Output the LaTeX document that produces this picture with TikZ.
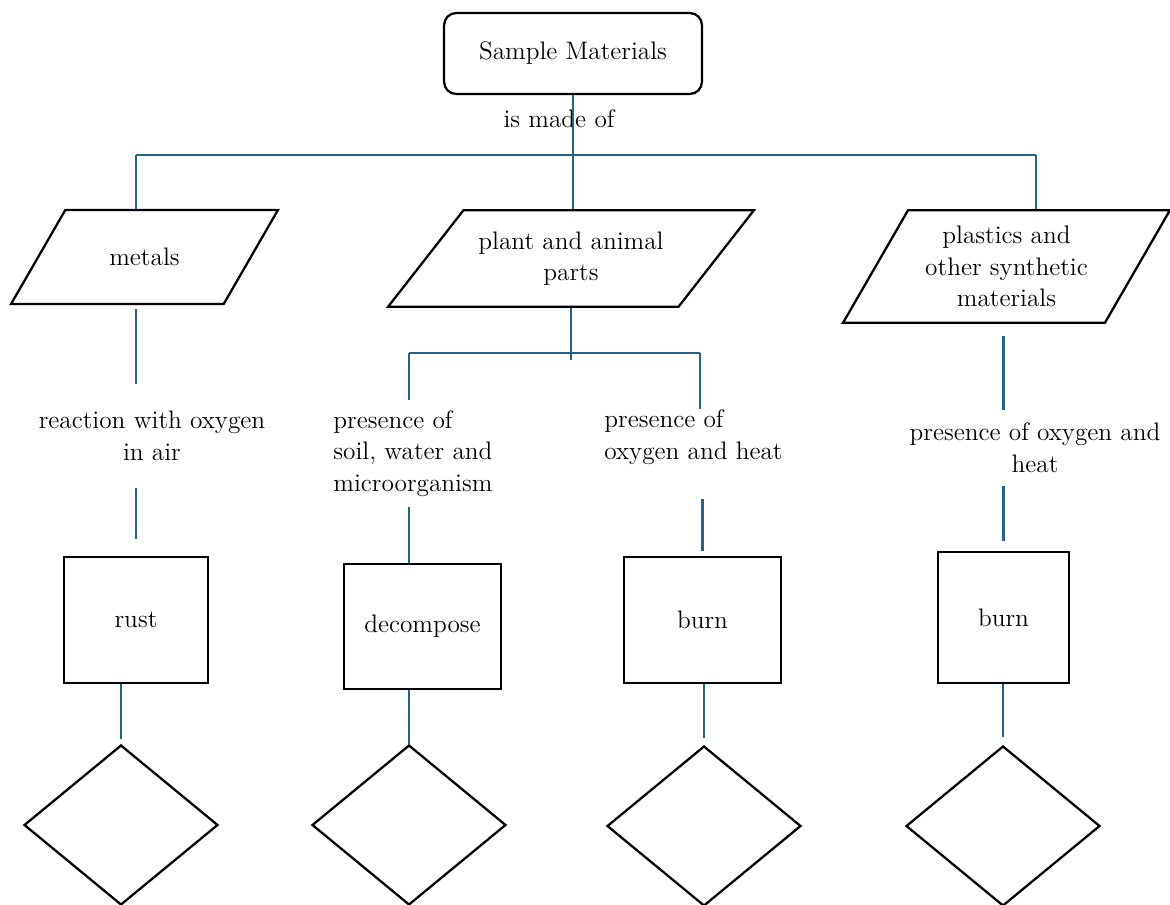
\documentclass[tikz,border=0pt]{standalone}
\usepackage{tikz}
\usetikzlibrary{shapes.geometric}

\definecolor{linkblue}{RGB}{38,98,138}

\begin{document}
\begin{tikzpicture}[x=0.02cm, y=-0.02cm,
  every node/.append style={font=\fontsize{14.4}{18}\selectfont},
  link/.style={draw=linkblue, line width=1.4pt},
  material/.style={draw, line width=1.3pt, trapezium, trapezium left angle=60,
    trapezium right angle=120, trapezium stretches body, inner xsep=0pt, align=center},
  result/.style={draw, line width=1.3pt, rectangle, inner sep=0pt},
  outcome/.style={draw, line width=1.3pt, diamond, inner sep=0pt,
    minimum width=3.88cm, minimum height=3.2cm},
  cond/.style={inner sep=0pt, align=center}]

  \useasboundingbox (0,0) rectangle (1170,905);

  % Root of the map

  \node [draw, line width=1.3pt, rounded corners=7pt, minimum width=5.16cm,
    minimum height=1.62cm] (sample) at (573,53.5) {Sample Materials};
  \node [inner sep=0pt] (madeof) at (559,119) {is made of};

  % Kinds of materials

  \node [material, inner ysep=21.7pt, minimum width=5.34cm] (metals) at (144.5,257) {metals};
  \node [material, trapezium left angle=52, trapezium right angle=128,
    inner ysep=12.1pt, minimum width=7.32cm] (plant) at (571,258.5) {plant and animal\\parts};
  \node [material, inner ysep=9pt, minimum width=6.54cm] (plastics) at (1006.5,266.5)
    {plastics and\\other synthetic\\materials};

  % Conditions

  \node [cond, minimum height=2.06cm] (rxn) at (152,436) {reaction with oxygen\\in air};
  \node [cond, align=left, anchor=west, minimum height=2.14cm] (soil) at (333,453.5)
    {presence of\\soil, water and\\microorganism};
  \node [cond, align=left, anchor=west] (oxy) at (604,437) {presence of\\oxygen and heat};
  \node [cond, minimum height=1.52cm] (oxyB) at (1035,448) {presence of oxygen and\\heat};

  % What happens

  \node [result, minimum width=2.88cm, minimum height=2.52cm] (rust) at (136,620) {rust};
  \node [result, minimum width=3.14cm, minimum height=2.5cm] (decomp) at (422.5,626.5) {decompose};
  \node [result, minimum width=3.14cm, minimum height=2.52cm] (burn) at (702.5,620) {burn};
  \node [result, minimum width=2.62cm, minimum height=2.62cm] (burnB) at (1003.5,617.5) {burn};

  \node [outcome] (dA) at (121,825) {};
  \node [outcome] (dB) at (409,825) {};
  \node [outcome] (dC) at (704,826) {};
  \node [outcome] (dD) at (1003,826) {};

  % Connections

  \coordinate (hubL) at (136,155);
  \coordinate (hubR) at (1036,155);
  \coordinate (splitL) at (409,353);
  \coordinate (splitR) at (700,353);

  \path [link] (sample.south) -- (sample.south |- plant.north);
  \path [link] (hubL) -- (hubR);
  \path [link] (hubL) -- (hubL |- metals.north);
  \path [link] (hubR) -- (hubR |- plastics.north);

  \path [link] (plant.south) -- ([yshift=-4pt]plant.south |- splitL);
  \path [link] (splitL) -- (splitR);
  \path [link] (splitL) -- (splitL |- soil.north);
  \path [link] (splitR) -- (splitR |- oxy.north);

  \path [link, shorten <=0.08cm] (metals.south -| rust) -- (rxn.north -| rust);
  \path [link, shorten >=0.34cm] (rxn.south -| rust) -- (rust.north);
  \path [link, shorten >=0.1cm] (rust.south -| dA) -- (dA.north);

  \path [link] (soil.south -| dB) -- (decomp.north -| dB);
  \path [link] (decomp.south -| dB) -- (dB.north);

  \path [link, shorten <=0.68cm, shorten >=0.1cm] (oxy.south -| burn) -- (burn.north);
  \path [link, shorten >=0.14cm] (burn.south -| dC) -- (dC.north);

  \path [link, shorten <=0.24cm] (plastics.south -| burnB) -- (oxyB.north -| burnB);
  \path [link, shorten >=0.2cm] (oxyB.south -| burnB) -- (burnB.north);
  \path [link, shorten >=0.16cm] (burnB.south -| dD) -- (dD.north);
\end{tikzpicture}
\end{document}
